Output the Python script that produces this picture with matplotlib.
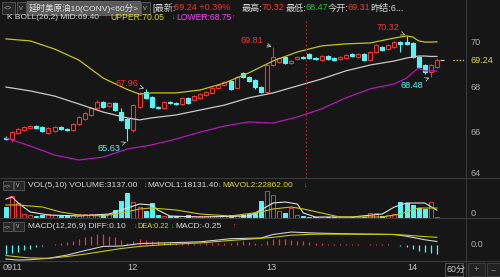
import matplotlib
matplotlib.use("Agg")
import matplotlib.pyplot as plt
from matplotlib.patches import Rectangle
from matplotlib.lines import Line2D

# 60 minute bars, 0911 - 14
opens = [65.78, 65.73, 66.00, 66.13, 66.22, 66.31, 66.27, 66.00, 66.09, 66.27,
         66.18, 66.13, 66.40, 66.62, 66.80, 67.11, 67.38, 67.20, 67.33, 66.93,
         66.62, 66.13, 67.16, 67.82, 67.60, 67.16, 67.11, 67.38, 67.33, 67.29,
         67.56, 67.47, 67.56, 67.69, 67.78, 68.00, 68.13, 68.31, 68.00, 68.67,
         68.49, 68.36, 68.04, 67.82, 69.02, 69.16, 69.38, 69.11, 69.29, 69.38,
         69.51, 69.33, 69.24, 69.42, 69.33, 69.29, 69.33, 69.51, 69.38, 69.51,
         69.24, 69.60, 69.82, 69.73, 69.82, 70.04, 70.04, 70.00, 69.38, 69.02,
         68.71, 68.93]
closes = [65.73, 66.04, 66.18, 66.27, 66.31, 66.22, 66.09, 66.22, 66.27, 66.18,
          66.13, 66.40, 66.71, 66.89, 67.11, 67.38, 67.16, 67.33, 67.02, 66.58,
          66.22, 67.24, 67.78, 67.56, 67.16, 67.11, 67.38, 67.33, 67.29, 67.56,
          67.33, 67.64, 67.73, 67.82, 68.00, 68.13, 68.27, 67.96, 68.49, 68.49,
          68.31, 68.04, 67.82, 69.02, 69.38, 69.33, 69.11, 69.20, 69.38, 69.33,
          69.33, 69.29, 69.42, 69.29, 69.24, 69.38, 69.47, 69.42, 69.51, 69.24,
          69.60, 69.91, 69.69, 69.91, 70.04, 69.96, 69.96, 69.38, 68.93, 68.71,
          69.02, 69.24]
highs = [65.87, 66.08, 66.22, 66.33, 66.36, 66.34, 66.30, 66.25, 66.31, 66.30,
         66.20, 66.45, 66.75, 66.93, 67.16, 67.47, 67.42, 67.38, 67.38, 67.11,
         66.67, 67.29, 67.82, 67.96, 67.64, 67.20, 67.42, 67.42, 67.36, 67.60,
         67.60, 67.69, 67.78, 67.87, 68.04, 68.18, 68.31, 68.36, 68.53, 68.71,
         68.53, 68.40, 68.09, 69.07, 69.81, 69.38, 69.42, 69.24, 69.42, 69.42,
         69.56, 69.36, 69.47, 69.47, 69.38, 69.42, 69.51, 69.56, 69.56, 69.56,
         69.64, 69.96, 69.87, 69.96, 70.09, 70.09, 70.32, 70.04, 69.42, 69.07,
         69.07, 69.33]
lows = [65.69, 65.60, 65.96, 66.10, 66.20, 66.18, 66.05, 65.96, 66.05, 66.13,
        66.09, 66.10, 66.36, 66.58, 66.76, 67.07, 67.11, 67.16, 66.98, 66.53,
        65.63, 66.05, 67.11, 67.51, 67.11, 67.07, 67.07, 67.29, 67.24, 67.24,
        67.29, 67.42, 67.51, 67.64, 67.73, 67.96, 68.09, 67.91, 67.96, 68.44,
        68.27, 67.96, 67.78, 67.78, 68.98, 69.11, 69.07, 69.07, 69.24, 69.29,
        69.29, 69.24, 69.20, 69.24, 69.20, 69.24, 69.29, 69.38, 69.33, 69.20,
        69.20, 69.56, 69.64, 69.69, 69.78, 69.60, 69.91, 69.33, 68.89, 68.62,
        68.48, 68.89]

# BOLL(26,2) read at some bars
band_idx = [0, 4, 8, 12, 16, 20, 22, 24, 28, 32, 36, 40, 44, 48, 52, 56, 60,
            64, 66, 67, 68, 69, 70, 71]
upper = [70.18, 70.09, 69.73, 69.24, 68.44, 67.93, 67.73, 67.78, 67.78, 67.91,
         68.22, 68.67, 69.20, 69.60, 69.87, 69.96, 70.00, 70.22, 70.31, 70.27,
         70.09, 70.04, 70.04, 70.05]
mid = [68.04, 67.87, 67.64, 67.29, 66.93, 66.67, 66.58, 66.67, 66.80, 67.02,
       67.24, 67.56, 67.78, 68.09, 68.40, 68.76, 69.02, 69.20, 69.33, 69.38,
       69.42, 69.42, 69.40, 69.40]
lower = [65.78, 65.42, 65.02, 64.80, 64.93, 65.29, 65.38, 65.47, 65.73, 66.04,
         66.31, 66.49, 66.44, 66.71, 67.07, 67.56, 67.96, 68.18, 68.44, 68.67,
         68.89, 68.76, 68.76, 68.75]

volumes = [25000, 51000, 35000, 9000, 7000, 5000, 7000, 9000, 7000, 5000,
           6000, 7000, 9000, 9000, 10000, 10000, 7000, 9000, 18000, 39000,
           57000, 37000, 25000, 16000, 34000, 7000, 5000, 5000, 4000, 4000,
           6000, 5000, 4000, 4000, 5000, 5000, 4000, 6000, 7000, 8000,
           9000, 12000, 39000, 62000, 53000, 16000, 11000, 23000, 7000, 4000,
           3000, 2000, 3000, 2000, 2000, 3000, 2000, 3000, 2000, 3000,
           11000, 11000, 5000, 6000, 9000, 37000, 34000, 30000, 24000, 21000,
           36000, 3137]
mavol1_idx = [0, 1, 2, 4, 7, 12, 17, 20, 22, 24, 25, 27, 32, 40, 42, 44, 46,
              48, 49, 51, 57, 62, 64, 66, 69, 71]
mavol1 = [43700, 48300, 34500, 13800, 6900, 4600, 9200, 23000, 32200, 29900,
          18400, 4600, 2300, 4600, 18400, 34500, 36800, 32200, 11500, 2300,
          2300, 9200, 25300, 34500, 34500, 18131]
mavol2_idx = [0, 2, 6, 9, 12, 16, 19, 22, 24, 28, 32, 37, 42, 44, 47, 49, 52,
              55, 62, 65, 68, 71]
mavol2 = [29900, 29900, 25300, 13800, 6900, 4600, 11500, 20700, 23000, 18400,
          9200, 4600, 13800, 20700, 25300, 20700, 11500, 2300, 2300, 9200,
          23000, 22862]

macd_hist = [-0.25, -0.22, -0.19, -0.15, -0.11, -0.07, -0.03, 0.01,
             0.03, 0.05, 0.08, 0.12, 0.17, 0.22, 0.27, 0.30, 0.30,
             0.27, 0.22, 0.14, 0.06, 0.10, 0.16, 0.14, 0.10,
             0.10, 0.09, 0.08, 0.07, 0.06, 0.05,
             0.04, 0.04, 0.05, 0.06, 0.06, 0.07, 0.05, 0.08, 0.10,
             0.08, 0.05, 0.03, 0.12, 0.18, 0.18, 0.16, 0.14, 0.12,
             0.10, 0.08, 0.06, 0.05, 0.04, 0.03, 0.02, 0.02, 0.02, 0.02,
             0.01, 0.02, 0.03, 0.02, 0.02, 0.01,
             -0.02, -0.06, -0.12, -0.17, -0.21, -0.24, -0.25]
macd_idx = [0, 2, 4, 7, 10, 13, 16, 19, 22, 26, 32, 37, 42, 44, 47, 51, 59,
            64, 66, 69, 71]
diff = [-0.40, -0.43, -0.42, -0.38, -0.29, -0.16, -0.04, -0.03, 0.04, 0.06,
        0.09, 0.18, 0.20, 0.30, 0.37, 0.34, 0.31, 0.30, 0.25, 0.15, 0.10]
dea = [-0.30, -0.34, -0.37, -0.38, -0.33, -0.26, -0.18, -0.10, -0.04, 0.01,
       0.06, 0.13, 0.19, 0.22, 0.28, 0.31, 0.31, 0.30, 0.28, 0.24, 0.22]

price_ticks = [64, 66, 68, 70]
day_labels = ["0911", "12", "13", "14"]
day_pos = [-0.5, 20.9, 43.8, 66.9]

W, H = 500, 277
BG = "#161616"
RED = "#ee3535"
CYAN = "#55f6f6"
YEL = "#d8d828"
WHITE = "#d6d6d6"
GREEN = "#22c422"
LINE = "#3a3a3a"

plt.rcParams["font.family"] = ["Liberation Sans", "Noto Sans CJK SC", "DejaVu Sans"]

fig = plt.figure(figsize=(W / 100, H / 100), dpi=100, facecolor=BG)


def panel(y0, y1):
    a = fig.add_axes([0, 1 - y1 / H, 466 / W, (y1 - y0) / H])
    a.set_facecolor(BG)
    for s in a.spines.values():
        s.set_visible(False)
    a.set_xticks([])
    a.set_yticks([])
    a.set_xlim(-0.99, 75.8)
    return a


def ftext(x, y, s, color=WHITE, size=6.2, **kw):
    fig.text(x / W, 1 - y / H, s, color=color, fontsize=size, va="center", ha="left", **kw)


def fbox(x0, y0, x1, y1, face="#262626", edge="#5a5a5a"):
    fig.add_artist(Rectangle((x0 / W, 1 - y1 / H), (x1 - x0) / W, (y1 - y0) / H,
                             transform=fig.transFigure, facecolor=face, edgecolor=edge, lw=0.6))


ax = panel(20, 178)
ax.set_ylim(64.0, 71.02)
vax = panel(178, 218)
vax.set_ylim(0, 92000)
mx = panel(218, 261)
mx.set_ylim(-0.457, 0.771)

# candles
bw = 0.66
for i in range(len(opens)):
    o, c = opens[i], closes[i]
    up = c >= o
    col = RED if up else CYAN
    top, bot = max(o, c), min(o, c)
    ax.vlines(i, top, highs[i], color=col, lw=0.8)
    ax.vlines(i, lows[i], bot, color=col, lw=0.8)
    if top - bot < 0.03:
        ax.hlines(c, i - bw / 2, i + bw / 2, color=col, lw=1)
    else:
        ax.add_patch(Rectangle((i - bw / 2, bot), bw, top - bot,
                               facecolor=BG if up else col, edgecolor=col, lw=0.8))

ax.plot(band_idx, upper, color="#c4c41c", lw=0.9)
ax.plot(band_idx, mid, color="#c8c8c8", lw=0.9)
ax.plot(band_idx, lower, color="#b418b4", lw=0.9)
ax.axvline(49.5, color="#a82a2a", lw=0.8, ls=(0, (1.5, 2)))

# high / low marks
arrow = dict(arrowstyle="->", color="#c0c0c0", lw=0.6, shrinkA=1, shrinkB=1)
ax.annotate("69.81", xy=(44, 69.81), xytext=(40.5, 70.13), color=RED, fontsize=6.6,
            ha="center", va="center", arrowprops=arrow)
ax.annotate("67.96", xy=(23, 67.96), xytext=(19.9, 68.22), color=RED, fontsize=6.6,
            ha="center", va="center", arrowprops=arrow)
ax.annotate("65.63", xy=(20, 65.63), xytext=(17.0, 65.29), color=CYAN, fontsize=6.6,
            ha="center", va="center", arrowprops=arrow)
ax.annotate("70.32", xy=(66, 70.32), xytext=(63.0, 70.67), color=RED, fontsize=6.6,
            ha="center", va="center", arrowprops=arrow)
ax.annotate("68.48", xy=(70, 68.48), xytext=(66.9, 68.13), color=CYAN, fontsize=6.6,
            ha="center", va="center", arrowprops=arrow)

# right price scale
ytr = ax.get_yaxis_transform()
for t in price_ticks:
    ax.text(1.009, t, str(t), transform=ytr, color="#b0b0b0", fontsize=6.6,
            va="bottom" if t == price_ticks[0] else "center", ha="left")
ax.text(1.009, closes[-1], "%.2f" % closes[-1], transform=ytr, color=YEL, fontsize=6.6,
        va="center", ha="left")
ax.plot([73.6, 75.6], [closes[-1]] * 2, color=YEL, lw=0.9, ls=(0, (1, 1.5)), clip_on=False)
ax.hlines(closes[-1], 71.5, 72.2, color="#cccccc", lw=0.8)

# volume
for i, v in enumerate(volumes):
    up = closes[i] >= opens[i]
    col = RED if up else CYAN
    vax.add_patch(Rectangle((i - bw / 2, 0), bw, v, facecolor=BG if up else col,
                            edgecolor=col, lw=0.7))
vax.plot(mavol1_idx, mavol1, color="#e0e0e0", lw=0.8)
vax.plot(mavol2_idx, mavol2, color="#c4c41c", lw=0.8)
vax.text(1.009, 0, "0", transform=vax.get_yaxis_transform(), color="#b0b0b0",
         fontsize=6.6, va="bottom", ha="left")

# macd
for i, m in enumerate(macd_hist):
    mx.vlines(i, 0, m, color=RED if m >= 0 else CYAN, lw=0.9)
mx.plot(macd_idx, diff, color="#d0d0d0", lw=0.8)
mx.plot(macd_idx, dea, color="#c4c41c", lw=0.8)
mx.text(1.009, 0, "0.0", transform=mx.get_yaxis_transform(), color="#b0b0b0",
        fontsize=6.6, va="center", ha="left")
for lab, p in zip(day_labels, day_pos):
    mx.text(p, -0.16, lab, transform=mx.get_xaxis_transform(), color="#c0c0c0",
            fontsize=6.6, va="center", ha="left" if lab == "0911" else "center")

# panel separators
for y in (178, 218, 261):
    fig.add_artist(Line2D([0, 1], [1 - y / H] * 2, color=LINE, lw=0.8))
fig.add_artist(Line2D([466 / W] * 2, [0, 1], color=LINE, lw=0.8))

# header row 1
fbox(2, 2, 15, 14)
ftext(4, 8, "<>", "#a0a0a0", 5)
fbox(17, 2, 26, 14)
ftext(18.5, 8, "v", "#a0a0a0", 5.5)
fbox(27, 1, 140, 15, face="#5a5a5a", edge="#6a6a6a")
ftext(29, 8, "延时美原油10(CONV)<60分>", "#e6e6e6", 6.1)
fbox(141, 2, 150, 14)
ftext(142.5, 8, "v", "#a0a0a0", 5.5)
ftext(152, 8, "[最新:", WHITE, 6.6)
ftext(174, 8, "69.24 +0.39%", RED, 6.6)
ftext(242, 8, "最高:", WHITE, 6.6)
ftext(262, 8, "70.32", RED, 6.6)
ftext(286, 8, "最低:", WHITE, 6.6)
ftext(305, 8, "68.47", GREEN, 6.6)
ftext(328, 8, "今开:", WHITE, 6.6)
ftext(347, 8, "69.31", RED, 6.6)
ftext(370, 8, "昨结:6...", WHITE, 6.6)

# header row 2
ftext(7, 17.5, "K BOLL(26,2) MID:69.40", WHITE, 6.0)
ftext(104, 17.5, "↑", RED, 5)
ftext(110, 17.5, "UPPER:70.05", YEL, 6.2)
ftext(171, 17.5, "↓", GREEN, 5)
ftext(176, 17.5, "LOWER:68.75", "#ff40ff", 6.2)
ftext(231, 17.5, "↑", RED, 5)

# volume title
fbox(3, 181, 13, 190)
ftext(4, 185.5, "<>", "#a0a0a0", 4.5)
fbox(14, 181, 24, 190)
ftext(16, 185.5, "v", "#a0a0a0", 5)
ftext(28, 185.5, "VOL(5,10) VOLUME:3137.00", WHITE, 6.0)
ftext(143.5, 185.5, "↓", GREEN, 5)
ftext(147, 185.5, "MAVOL1:18131.40", WHITE, 6.0)
ftext(217, 185.5, "↓", GREEN, 5)
ftext(222, 185.5, "MAVOL2:22862.00", YEL, 6.0)
ftext(303, 185.5, "↓", GREEN, 5)

# macd title
fbox(3, 222, 13, 231)
ftext(4, 226.5, "<>", "#a0a0a0", 4.5)
fbox(14, 222, 24, 231)
ftext(16, 226.5, "v", "#a0a0a0", 5)
ftext(28, 226.5, "MACD(12,26,9) DIFF:0.10", WHITE, 6.0)
ftext(133.5, 226.5, "↓", GREEN, 5)
ftext(137.5, 226.5, "DEA:0.22", YEL, 5.3)
ftext(170.5, 226.5, "↓", GREEN, 5)
ftext(175.5, 226.5, "MACD:-0.25", WHITE, 6.0)
ftext(232.5, 226.5, "↑", RED, 5)

# bottom right controls
fbox(445, 263, 463, 276, face=BG, edge="#5a5a5a")
ftext(446.5, 269.5, "60分", "#c8c8c8", 6.4)
fbox(468, 263, 485, 276, face="#222222", edge="#444444")
ftext(473.5, 269.5, "+", "#888888", 6.6)
fbox(487, 263, 500, 276, face="#222222", edge="#444444")
ftext(491, 269.5, "−", "#888888", 6.6)

fig.savefig("out.png", dpi=100, facecolor=BG)
